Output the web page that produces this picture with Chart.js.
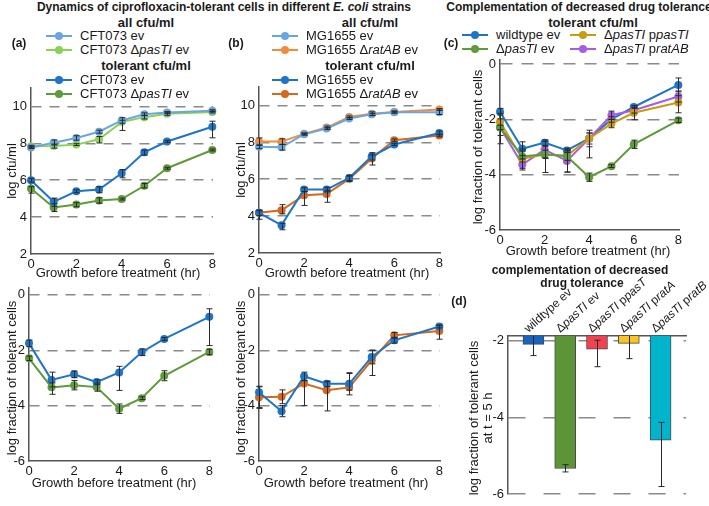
<!DOCTYPE html>
<html><head><meta charset="utf-8">
<script src="https://cdn.jsdelivr.net/npm/chart.js@4"></script>
<style>
body{margin:0;width:709px;height:506px;position:relative;background:#fff;font-family:"Liberation Sans",Arial,sans-serif;overflow:hidden;color:#1a1a1a}
.t{position:absolute;white-space:nowrap;transform:translate(-50%,-50%);line-height:1.1}
.r{position:absolute;white-space:nowrap;transform:translate(-50%,-50%) rotate(-90deg);text-align:center;line-height:1.05}
.leg{position:absolute;white-space:nowrap;font-size:13px;line-height:16px;height:16px}
.sym{position:relative;display:inline-block;width:26px;height:2px;vertical-align:middle;margin-right:8px;top:-1px}
.sym::after{content:'';position:absolute;left:9px;top:-3px;width:8px;height:8px;border-radius:50%;background:inherit}
canvas{position:absolute}
</style></head><body>
<script>
// ---------- data ----------
const hours = [0, 1, 2, 3, 4, 5, 6, 8];
const xTicks = [0, 2, 4, 6, 8];
const cfuTicks = [2, 4, 6, 8, 10];
const fracTicks = [-6, -4, -2, 0];
const dTicks = [-6, -4, -2];

// (a) CFT073, log cfu/ml
const aAllEv   = [7.77, 8.03, 8.29, 8.63, 9.24, 9.58, 9.67, 9.77];
const aAllDel  = [7.84, 7.86, 7.93, 8.22, 9.15, 9.42, 9.60, 9.70];
const aTolEv   = [6.00, 4.83, 5.40, 5.50, 6.38, 7.51, 8.10, 8.90];
const aTolDel  = [5.55, 4.52, 4.68, 4.90, 4.98, 5.70, 6.65, 7.64];
const aAllEvLo = [0.05, 0.12, 0.12, 0.08, 0.15, 0.07, 0.05, 0.05];
const aAllEvHi = [0.05, 0.15, 0.12, 0.08, 0.15, 0.07, 0.05, 0.05];
const aAllDelLo= [0.05, 0.12, 0.05, 0.20, 0.45, 0.10, 0.08, 0.05];
const aAllDelHi= [0.05, 0.10, 0.05, 0.15, 0.10, 0.10, 0.08, 0.05];
const aTolEvLo = [0.10, 0.25, 0.08, 0.18, 0.25, 0.15, 0.05, 0.60];
const aTolEvHi = [0.10, 0.20, 0.08, 0.15, 0.20, 0.12, 0.05, 0.30];
const aTolDelLo= [0.25, 0.22, 0.12, 0.15, 0.05, 0.12, 0.05, 0.05];
const aTolDelHi= [0.10, 0.20, 0.10, 0.15, 0.05, 0.12, 0.05, 0.05];
// (a) fraction
const aFracEv  = [-1.75, -3.07, -2.87, -3.15, -2.80, -2.07, -1.59, -0.79];
const aFracDel = [-2.29, -3.34, -3.26, -3.33, -4.11, -3.73, -2.92, -2.06];
const aFracEvLo  = [0.12, 0.25, 0.12, 0.08, 0.65, 0.12, 0.05, 1.04];
const aFracEvHi  = [0.12, 0.28, 0.12, 0.08, 0.22, 0.12, 0.05, 0.29];
const aFracDelLo = [0.08, 0.25, 0.17, 0.15, 0.17, 0.05, 0.18, 0.10];
const aFracDelHi = [0.08, 0.16, 0.17, 0.15, 0.17, 0.05, 0.18, 0.10];

// (b) MG1655, log cfu/ml
const bAllEv   = [7.76, 7.73, 8.44, 8.75, 9.29, 9.52, 9.63, 9.63];
const bAllDel  = [8.04, 8.04, 8.46, 8.80, 9.38, 9.55, 9.65, 9.78];
const bTolEv   = [4.18, 3.51, 5.44, 5.44, 6.07, 7.24, 7.88, 8.51];
const bTolDel  = [4.18, 4.32, 5.13, 5.20, 6.02, 7.12, 8.11, 8.37];
const bAllEvLo = [0.10, 0.15, 0.05, 0.05, 0.05, 0.05, 0.05, 0.12];
const bAllEvHi = [0.10, 0.15, 0.05, 0.05, 0.05, 0.05, 0.05, 0.12];
const bAllDelLo= [0.20, 0.15, 0.05, 0.08, 0.05, 0.10, 0.05, 0.05];
const bAllDelHi= [0.20, 0.15, 0.05, 0.08, 0.05, 0.10, 0.05, 0.05];
const bTolEvLo = [0.35, 0.25, 0.10, 0.12, 0.15, 0.20, 0.05, 0.10];
const bTolEvHi = [0.10, 0.10, 0.10, 0.12, 0.15, 0.20, 0.05, 0.10];
const bTolDelLo= [0.15, 0.20, 0.55, 0.45, 0.15, 0.35, 0.07, 0.07];
const bTolDelHi= [0.15, 0.30, 0.20, 0.20, 0.15, 0.20, 0.07, 0.07];
// (b) fraction
const bFracEv  = [-3.52, -4.20, -2.94, -3.21, -3.21, -2.24, -1.64, -1.14];
const bFracDel = [-3.70, -3.68, -3.20, -3.44, -3.34, -2.36, -1.46, -1.30];
const bFracEvLo  = [0.55, 0.20, 0.15, 0.10, 0.40, 0.25, 0.10, 0.05];
const bFracEvHi  = [0.20, 0.20, 0.15, 0.10, 0.40, 0.25, 0.10, 0.05];
const bFracDelLo = [0.40, 0.25, 0.80, 0.75, 0.10, 0.55, 0.10, 0.30];
const bFracDelHi = [0.40, 0.25, 0.10, 0.30, 0.50, 0.35, 0.10, 0.20];

// (c) complementation, fraction
const cWt  = [-1.72, -3.06, -2.84, -3.12, -2.69, -2.00, -1.55, -0.75];
const cDel = [-2.29, -3.34, -3.26, -3.33, -4.09, -3.69, -2.90, -2.03];
const cPas = [-2.08, -3.42, -3.27, -3.31, -2.69, -2.15, -1.76, -1.39];
const cRat = [-2.28, -3.63, -3.09, -3.50, -2.69, -1.85, -1.67, -1.17];
const cWtLo  = [0.12, 0.25, 0.10, 0.08, 0.20, 0.10, 0.05, 0.25];
const cWtHi  = [0.12, 0.25, 0.10, 0.08, 0.20, 0.10, 0.05, 0.25];
const cDelLo = [0.08, 0.20, 0.15, 0.15, 0.15, 0.05, 0.15, 0.08];
const cDelHi = [0.08, 0.20, 0.15, 0.15, 0.15, 0.05, 0.15, 0.08];
const cPasLo = [0.80, 0.35, 0.65, 0.60, 0.70, 0.15, 0.25, 0.37];
const cPasHi = [0.30, 0.35, 0.30, 0.20, 0.20, 0.15, 0.25, 0.25];
const cRatLo = [0.30, 0.20, 0.30, 0.40, 0.30, 0.15, 0.10, 0.20];
const cRatHi = [0.30, 0.20, 0.30, 0.40, 0.30, 0.15, 0.10, 0.20];

// (d) at t = 5 h
const dLabels = ["wildtype ev", "ΔpasTI ev", "ΔpasTI ppasT", "ΔpasTI pratA", "ΔpasTI pratB"];
const dVals   = [-2.10, -5.33, -2.22, -2.07, -4.59];
const dLo     = [0.29, 0.09, 0.46, 0.40, 1.21];
const dHi     = [0.30, 0.10, 0.23, 0.40, 0.46];
const dColors = ["#1565c0", "#5e9438", "#f2414f", "#fcc51e", "#00b4cc"];

// ---------- styles ----------
const C = {lblue:"#6aa6de", lgreen:"#8bd153", blue:"#1f74c7", green:"#5f9a3c",
           lorange:"#f28c3d", dorange:"#d2691f", gold:"#c99a14", purple:"#a45ee0"};
const FONT = "'Liberation Sans', Arial, sans-serif";
Chart.defaults.font.family = FONT;
Chart.defaults.color = "#1a1a1a";

function fmt(s){ return s.replace(/(pasTI|pasT|ratAB|ratA|ratB|E\. coli)/g, '<i>$1</i>'); }
function splitIt(s){
  return s.split(/(pasTI|pasT|ratAB|ratA|ratB)/).filter(x=>x).map(x=>[x,/^(pasTI|pasT|ratAB|ratA|ratB)$/.test(x)]);
}

const errPlugin = {
  id:'errbars',
  afterDatasetsDraw(chart){
    const ctx = chart.ctx, xs = chart.scales.x, ys = chart.scales.y, a = chart.chartArea;
    ctx.save();
    ctx.beginPath(); ctx.rect(a.left-8, a.top, a.right-a.left+16, a.bottom-a.top+2); ctx.clip();
    ctx.strokeStyle = '#2a2a2a'; ctx.lineWidth = 1;
    chart.data.datasets.forEach(ds=>{
      if(!ds.errLo) return;
      ds.data.forEach((p,i)=>{
        const lo = ds.errLo[i], hi = ds.errHi[i];
        const x = Math.round(xs.getPixelForValue(p.x)) + 0.5;
        const y0 = ys.getPixelForValue(p.y - lo), y1 = ys.getPixelForValue(p.y + hi);
        ctx.beginPath();
        ctx.moveTo(x, y0); ctx.lineTo(x, y1);
        ctx.moveTo(x-3, y0); ctx.lineTo(x+3, y0);
        ctx.moveTo(x-3, y1); ctx.lineTo(x+3, y1);
        ctx.stroke();
      });
    });
    ctx.restore();
  }
};

function makeCanvas(area, pad){
  const cv = document.createElement('canvas');
  const w = area.r - area.l + pad.l + pad.r, h = area.b - area.t + pad.t + pad.b;
  cv.width = w; cv.height = h; cv.style.width = w+'px'; cv.style.height = h+'px';
  cv.style.left = (area.l - pad.l)+'px'; cv.style.top = (area.t - pad.t)+'px';
  document.body.appendChild(cv);
  return cv;
}

function lineChart(area, yMin, yMax, yTicks, series, dash){
  const pad = {l:44, t:12, r:16, b:24};
  const cv = makeCanvas(area, pad);
  new Chart(cv, {
    type:'line',
    data:{datasets: series.map(s=>({
      label:s.name, data: hours.map((h,i)=>({x:h, y:s.vals[i]})),
      borderColor:s.color, backgroundColor:s.color, pointBackgroundColor:s.color, pointBorderColor:s.color,
      pointRadius:4, pointBorderWidth:0, borderWidth:2, tension:0, clip:false, errLo:s.lo, errHi:s.hi
    }))},
    options:{
      responsive:false, animation:false, devicePixelRatio:1,
      layout:{padding:{left:0, top:pad.t, right:pad.r, bottom:0}},
      plugins:{legend:{display:false}, tooltip:{enabled:false}},
      scales:{
        x:{type:'linear', min:0, max:8.03,
           afterFit:s=>{s.height = pad.b;},
           afterBuildTicks:s=>{s.ticks = xTicks.map(v=>({value:v}));},
           ticks:{font:{size:13}, padding:3, color:'#1a1a1a'},
           grid:{display:false, drawTicks:false},
           border:{color:'#555', width:1.5}},
        y:{type:'linear', min:yMin, max:yMax,
           afterFit:s=>{s.width = pad.l;},
           afterBuildTicks:s=>{s.ticks = yTicks.map(v=>({value:v}));},
           ticks:{font:{size:13}, padding:4, color:'#1a1a1a'},
           grid:{drawTicks:false, lineWidth:1.5, color:c=> (c.tick && c.tick.value===yMin) ? 'rgba(0,0,0,0)' : '#8a8a8a'},
           border:{color:'#555', width:1.5, dash:dash}}
      }
    },
    plugins:[errPlugin]
  });
}

const catPlugin = {
  id:'catlabels',
  afterDraw(chart){
    const ctx = chart.ctx, xs = chart.scales.x, top = chart.chartArea.top;
    dLabels.forEach((lab,i)=>{
      const x = xs.getPixelForValue(i+1) - 5;
      ctx.save();
      ctx.translate(x, top - 3);
      ctx.rotate(-42*Math.PI/180);
      ctx.fillStyle = '#1a1a1a'; ctx.textBaseline = 'alphabetic';
      let cx = 0;
      splitIt(lab).forEach(([t,it])=>{
        ctx.font = (it?'italic ':'') + "12px " + FONT;
        ctx.fillText(t, cx, 0);
        cx += ctx.measureText(t).width;
      });
      ctx.restore();
    });
  }
};

function barChart(area){
  const pad = {l:44, t:70, r:23, b:5};
  const cv = makeCanvas(area, pad);
  new Chart(cv, {
    type:'bar',
    data:{datasets:[{
      data: dVals.map((v,i)=>({x:i+1, y:v})),
      backgroundColor:dColors, borderColor:'#4a4a4a', borderWidth:1,
      barThickness:21, borderSkipped:false, errLo:dLo, errHi:dHi
    }]},
    options:{
      responsive:false, animation:false, devicePixelRatio:1,
      layout:{padding:{left:0, top:pad.t, right:pad.r, bottom:pad.b}},
      plugins:{legend:{display:false}, tooltip:{enabled:false}},
      scales:{
        x:{type:'linear', position:'top', min:0.2, max:5.8, offset:false,
           afterFit:s=>{s.height = 0;},
           ticks:{display:false}, grid:{display:false, drawTicks:false},
           border:{color:'#555', width:1.5}},
        y:{type:'linear', min:-6, max:-1.88,
           afterFit:s=>{s.width = pad.l;},
           afterBuildTicks:s=>{s.ticks = dTicks.map(v=>({value:v}));},
           ticks:{font:{size:13}, padding:4, color:'#1a1a1a'},
           grid:{drawTicks:false, lineWidth:1.5, color:'#8a8a8a'},
           border:{color:'#555', width:1.5, dash:[17,18]}}
      }
    },
    plugins:[errPlugin, catPlugin]
  });
}

// ---------- charts ----------
lineChart({l:31, r:213, t:88, b:254}, 2, 11, cfuTicks, [
  {name:'CFT073 ev', vals:aAllEv, color:C.lblue, lo:aAllEvLo, hi:aAllEvHi},
  {name:'CFT073 ΔpasTI ev', vals:aAllDel, color:C.lgreen, lo:aAllDelLo, hi:aAllDelHi},
  {name:'CFT073 ev', vals:aTolEv, color:C.blue, lo:aTolEvLo, hi:aTolEvHi},
  {name:'CFT073 ΔpasTI ev', vals:aTolDel, color:C.green, lo:aTolDelLo, hi:aTolDelHi}], [10,8]);
lineChart({l:29, r:210, t:288, b:461}, -6, 0.25, fracTicks, [
  {name:'CFT073 ev', vals:aFracEv, color:C.blue, lo:aFracEvLo, hi:aFracEvHi},
  {name:'CFT073 ΔpasTI ev', vals:aFracDel, color:C.green, lo:aFracDelLo, hi:aFracDelHi}], [10,8]);
lineChart({l:259, r:440, t:87, b:253}, 2, 11, cfuTicks, [
  {name:'MG1655 ev', vals:bAllEv, color:C.lblue, lo:bAllEvLo, hi:bAllEvHi},
  {name:'MG1655 ΔratAB ev', vals:bAllDel, color:C.lorange, lo:bAllDelLo, hi:bAllDelHi},
  {name:'MG1655 ev', vals:bTolEv, color:C.blue, lo:bTolEvLo, hi:bTolEvHi},
  {name:'MG1655 ΔratAB ev', vals:bTolDel, color:C.dorange, lo:bTolDelLo, hi:bTolDelHi}], [10,8]);
lineChart({l:259, r:440, t:288, b:461}, -6, 0.25, fracTicks, [
  {name:'MG1655 ev', vals:bFracEv, color:C.blue, lo:bFracEvLo, hi:bFracEvHi},
  {name:'MG1655 ΔratAB ev', vals:bFracDel, color:C.dorange, lo:bFracDelLo, hi:bFracDelHi}], [10,8]);
lineChart({l:500, r:679, t:60, b:230}, -6, 0.15, fracTicks, [
  {name:'ΔpasTI ev', vals:cDel, color:C.green, lo:cDelLo, hi:cDelHi},
  {name:'ΔpasTI ppasTI', vals:cPas, color:C.gold, lo:cPasLo, hi:cPasHi},
  {name:'ΔpasTI pratAB', vals:cRat, color:C.purple, lo:cRatLo, hi:cRatHi},
  {name:'wildtype ev', vals:cWt, color:C.blue, lo:cWtLo, hi:cWtHi}], [12,9]);
barChart({l:508, r:686, t:336, b:501});

// ---------- text ----------
function T(x, y, html, style){
  const d = document.createElement('div'); d.className = 't';
  d.style.left = x+'px'; d.style.top = y+'px'; d.innerHTML = html;
  if(style) d.style.cssText += style;
  document.body.appendChild(d);
}
function R(x, y, html, style){
  const d = document.createElement('div'); d.className = 'r';
  d.style.left = x+'px'; d.style.top = y+'px'; d.innerHTML = html;
  d.style.fontSize = '13px';
  if(style) d.style.cssText += style;
  document.body.appendChild(d);
}
function L(x, y, color, name){
  const d = document.createElement('div'); d.className = 'leg';
  d.style.left = x+'px'; d.style.top = (y-8)+'px';
  d.innerHTML = '<span class="sym" style="background:'+color+'"></span>' + fmt(name);
  document.body.appendChild(d);
}

T(224, 8, fmt('Dynamics of ciprofloxacin-tolerant cells in different E. coli strains'), 'font-size:12px;font-weight:bold');
T(579, 8, 'Complementation of decreased drug tolerance', 'font-size:12px;font-weight:bold');

// (a)
T(146, 23, 'all cfu/ml', 'font-size:13px;font-weight:bold');
L(46, 36, C.lblue, 'CFT073 ev');
L(46, 50, C.lgreen, 'CFT073 ΔpasTI ev');
T(146, 66, 'tolerant cfu/ml', 'font-size:13px;font-weight:bold');
L(46, 80, C.blue, 'CFT073 ev');
L(46, 94, C.green, 'CFT073 ΔpasTI ev');
T(19, 44, '(a)', 'font-size:12px;font-weight:bold');
// (b)
T(370, 23, 'all cfu/ml', 'font-size:13px;font-weight:bold');
L(272, 36, C.lblue, 'MG1655 ev');
L(272, 50, C.lorange, 'MG1655 ΔratAB ev');
T(370, 66, 'tolerant cfu/ml', 'font-size:13px;font-weight:bold');
L(272, 80, C.blue, 'MG1655 ev');
L(272, 94, C.dorange, 'MG1655 ΔratAB ev');
T(236, 44, '(b)', 'font-size:12px;font-weight:bold');
// (c)
T(593, 23, 'tolerant cfu/ml', 'font-size:13px;font-weight:bold');
L(462, 35, C.blue, 'wildtype ev');
L(462, 49, C.green, 'ΔpasTI ev');
L(570, 35, C.gold, 'ΔpasTI ppasTI');
L(570, 49, C.purple, 'ΔpasTI pratAB');
T(451, 44, '(c)', 'font-size:12px;font-weight:bold');
// (d)
T(580, 271, 'complementation of decreased', 'font-size:12px;font-weight:bold');
T(582, 284, 'drug tolerance', 'font-size:12px;font-weight:bold');
T(459, 302, '(d)', 'font-size:12px;font-weight:bold');

// axis titles
const xt = 'Growth before treatment (hr)';
T(118, 273, xt, 'font-size:13px'); T(114, 483, xt, 'font-size:13px');
T(347, 273, xt, 'font-size:13px'); T(346, 483, xt, 'font-size:13px');
T(588, 251, xt, 'font-size:13px');
R(12, 171, 'log cfu/ml'); R(241, 170, 'log cfu/ml');
R(12, 378, 'log fraction of tolerant cells'); R(241, 378, 'log fraction of tolerant cells');
R(478, 147, 'log fraction of tolerant cells');
R(481, 418, 'log fraction of tolerant cells<br>at t = 5 h');
</script>
</body></html>
